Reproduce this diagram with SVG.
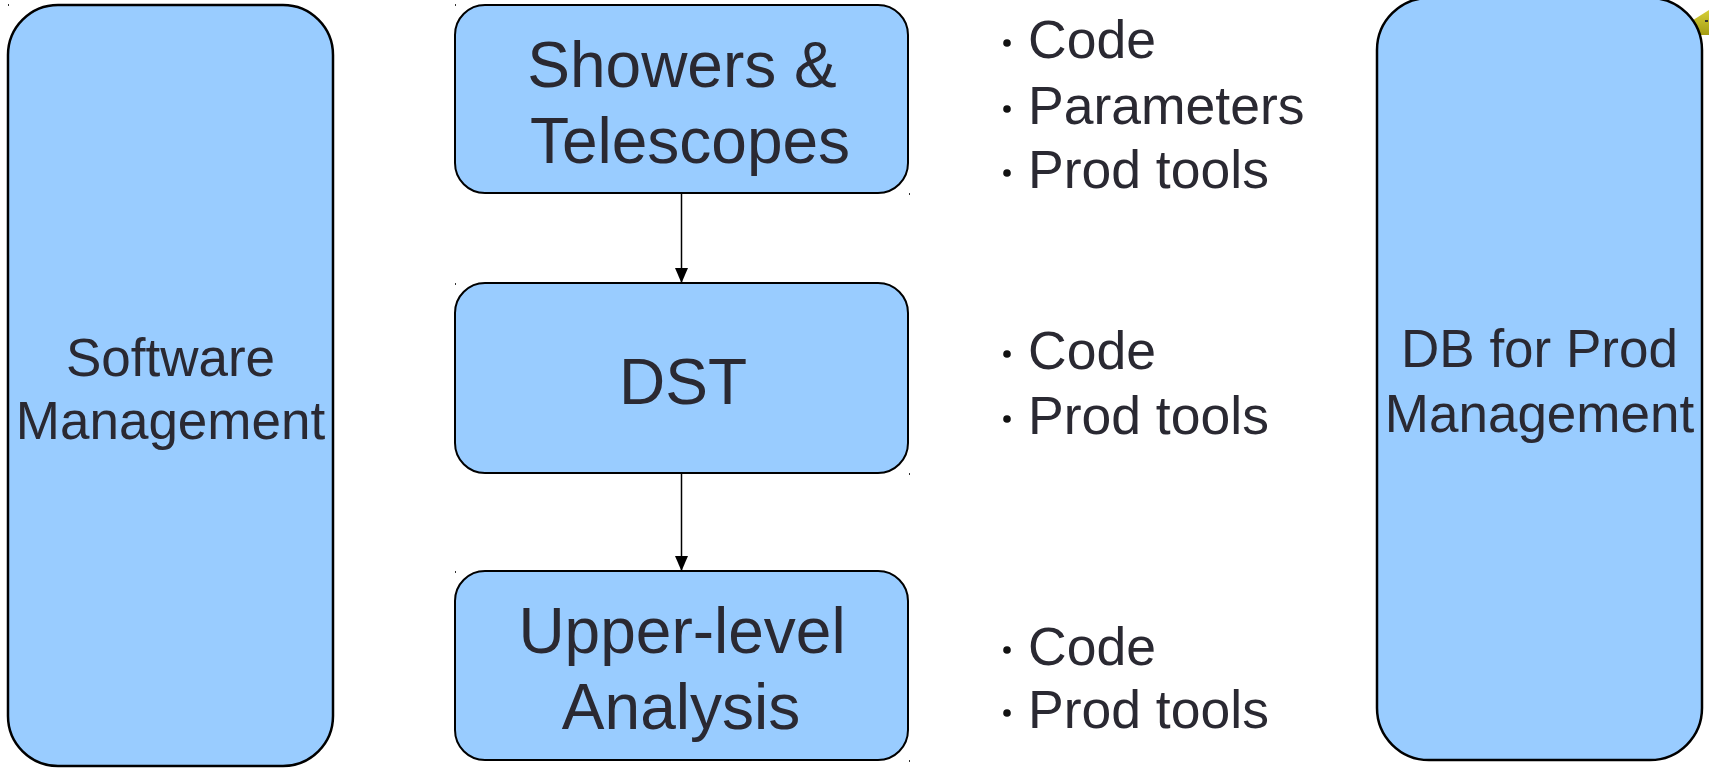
<svg xmlns="http://www.w3.org/2000/svg" width="1709" height="768" viewBox="0 0 1709 768">
<style>
.box{fill:#99ccff;stroke:#000;stroke-width:2.5}
.mbox{fill:#99ccff;stroke:#000;stroke-width:2}
.t{font-family:"Liberation Sans",Arial,sans-serif;fill:#2a2932}
.big{font-size:64px;text-anchor:middle}
.side{font-size:53px;text-anchor:middle}
.lst{font-size:53.5px}
.bul{fill:#111}
.conn{stroke:#000;stroke-width:1.5;fill:none}
.mk{fill:#333}
</style>
<defs>
<marker id="ah" markerWidth="15" markerHeight="13" refX="15" refY="6.5" orient="auto" markerUnits="userSpaceOnUse">
<path d="M0,0 L15,6.5 L0,13 z" fill="#000"/>
</marker>
<linearGradient id="yg" x1="0" y1="0" x2="0" y2="1">
<stop offset="0" stop-color="#d6cf3a"/>
<stop offset="1" stop-color="#a49c12"/>
</linearGradient>
</defs>
<rect width="1709" height="768" fill="#fff"/>
<polygon points="1690,22 1709,10 1709,35 1696,35" fill="url(#yg)"/>
<rect x="1705" y="20" width="3" height="2" fill="#333"/>
<g id="software-management">
<rect class="box" x="8" y="5" width="325" height="761" rx="50" ry="50"/>
<text class="t side" x="170.5" y="376">Software</text>
<text class="t side" x="170.5" y="439">Management</text>
</g>
<g id="db-prod-management">
<rect class="box" x="1377" y="-2" width="325" height="762" rx="52" ry="52"/>
<text class="t side" x="1539.5" y="367">DB for Prod</text>
<text class="t side" x="1539.5" y="432">Management</text>
</g>
<g id="showers-telescopes">
<rect class="mbox" x="455" y="5" width="453" height="188" rx="30" ry="30"/>
<text class="t big" x="682" y="87">Showers &amp;</text>
<text class="t big" x="690" y="163">Telescopes</text>
</g>
<g id="dst">
<rect class="mbox" x="455" y="283" width="453" height="190" rx="30" ry="30"/>
<text class="t big" x="683" y="404">DST</text>
</g>
<g id="upper-level-analysis">
<rect class="mbox" x="455" y="571" width="453" height="189" rx="30" ry="30"/>
<text class="t big" x="682" y="653">Upper-level</text>
<text class="t big" x="681" y="729">Analysis</text>
</g>
<g id="connectors">
<line class="conn" x1="681.5" y1="193" x2="681.5" y2="283" marker-end="url(#ah)"/>
<line class="conn" x1="681.5" y1="473" x2="681.5" y2="571" marker-end="url(#ah)"/>
</g>
<g id="list-showers">
<circle class="bul" cx="1007" cy="43" r="3.8"/>
<circle class="bul" cx="1007" cy="109" r="3.8"/>
<circle class="bul" cx="1007" cy="173" r="3.8"/>
<text class="t lst" x="1028" y="58">Code</text>
<text class="t lst" x="1028" y="124">Parameters</text>
<text class="t lst" x="1028" y="188">Prod tools</text>
</g>
<g id="list-dst">
<circle class="bul" cx="1007" cy="354" r="3.8"/>
<circle class="bul" cx="1007" cy="419" r="3.8"/>
<text class="t lst" x="1028" y="369">Code</text>
<text class="t lst" x="1028" y="434">Prod tools</text>
</g>
<g id="list-analysis">
<circle class="bul" cx="1007" cy="650" r="3.8"/>
<circle class="bul" cx="1007" cy="713" r="3.8"/>
<text class="t lst" x="1028" y="665">Code</text>
<text class="t lst" x="1028" y="728">Prod tools</text>
</g>
<g id="marks">
<rect class="mk" x="8" y="4" width="1" height="2"/>
<rect class="mk" x="455" y="4" width="1" height="2"/>
<rect class="mk" x="909" y="193" width="1" height="2"/>
<rect class="mk" x="455" y="283" width="1" height="2"/>
<rect class="mk" x="909" y="473" width="1" height="2"/>
<rect class="mk" x="455" y="571" width="1" height="2"/>
<rect class="mk" x="909" y="760" width="1" height="2"/>
</g>
</svg>
